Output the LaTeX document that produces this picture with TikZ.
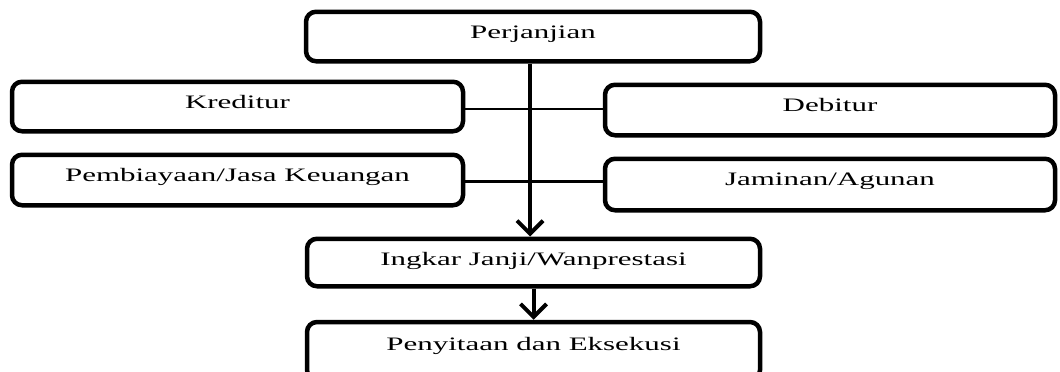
\documentclass[tikz,border=0pt]{standalone}
\usepackage{fontspec}
\setmainfont{Liberation Serif}
\usetikzlibrary{arrows.meta}
% horizontally widened lettering
\newcommand{\wide}[1]{\scalebox{1.63}[1]{#1}}
\begin{document}
\begin{tikzpicture}[x=1pt,y=-1pt,
  box/.style={draw, line width=4.5pt, rounded corners=10pt, inner sep=0pt,
    text height=26.5pt, font=\fontsize{19}{22}\selectfont},
  spine/.style={line width=4pt, -{Straight Barb[length=13pt,width=26pt]}},
  link/.style={line width=2.6pt}]
\useasboundingbox (0,0) rectangle (1060,372);
\clip (0,0) rectangle (1060,372);

% boxes
\node[box, minimum width=454pt, text depth=23pt] (top)   at (533,36.5)    {\wide{Perjanjian}};
\node[box, minimum width=451pt, text depth=23pt] (kred)  at (237.5,106.5) {\wide{Kreditur}};
\node[box, minimum width=451pt, text depth=24pt] (pemb)  at (237.5,180)   {\wide{Pembiayaan/Jasa Keuangan}};
\node[box, minimum width=450pt, text depth=24pt] (deb)   at (830,110)     {\wide{Debitur}};
\node[box, minimum width=450pt, text depth=25pt] (jam)   at (830,184.5)   {\wide{Jaminan/Agunan}};
\node[box, minimum width=453pt, text depth=21pt] (ingk)  at (533.5,262.5) {\wide{Ingkar Janji/Wanprestasi}};
% the last box runs past the lower edge of the page
\node[box, minimum width=453pt, text height=28pt, text depth=30pt] (peny) at (533.5,351) {\wide{Penyitaan dan Eksekusi}};

% helper coordinates for the spine and the side links
\coordinate (sx) at (530,0);
\coordinate (ya) at (0,109);
\coordinate (yb) at (0,181.5);

% side links
\draw[link] (kred.east |- ya) -- (deb.west |- ya);
\draw[link] (pemb.east |- yb) -- (jam.west |- yb);

% main flow
\draw[spine] (top.south -| sx) -- (ingk.north -| sx);
\draw[spine] (ingk.south) -- (peny.north);
\end{tikzpicture}
\end{document}
